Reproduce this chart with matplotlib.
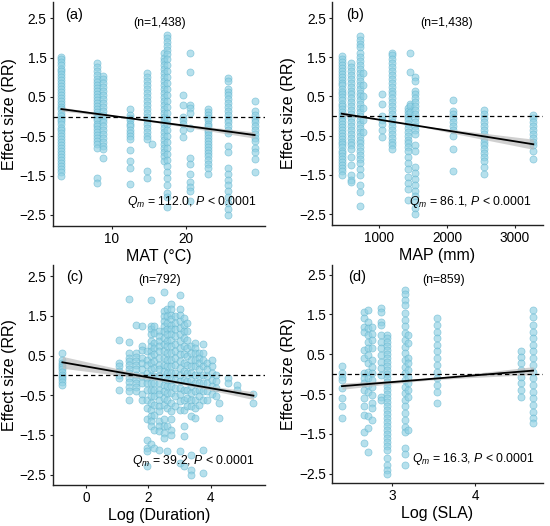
import numpy as np
import matplotlib
matplotlib.use("Agg")
import matplotlib.pyplot as plt

plt.rcParams['font.family'] = ['Liberation Sans', 'DejaVu Sans']
plt.rcParams['mathtext.fontset'] = 'custom'
plt.rcParams['mathtext.rm'] = 'Liberation Sans'
plt.rcParams['mathtext.it'] = 'Liberation Sans:italic'

# ---- (a) MAT columns and effect sizes
mat_x = [3.2, 8.0, 8.8, 12.5, 14.7, 15.4, 17.0, 17.4, 19.6, 20.6, 23.0, 25.7, 29.3]
mat_rr = [
    [1.52, 1.45, 1.38, 1.3, 1.22, 1.15, 1.08, 1.0, 0.92, 0.85, 0.78, 0.7, 0.62, 0.55, 0.48, 0.4,
     0.32, 0.25, 0.18, 0.1, 0.02, -0.05, -0.12, -0.2, -0.28, -0.35, -0.42, -0.5, -0.58, -0.65,
     -0.72, -0.8, -0.88, -0.95, -1.02, -1.1, -1.18, -1.25, -1.32, -1.4, -1.52],
    [1.37, 1.25, 1.15, 1.05, 0.95, 0.88, 0.8, 0.72, 0.65, 0.58, 0.5, 0.42, 0.35, 0.28, 0.2, 0.12,
     0.05, -0.03, -0.1, -0.18, -0.25, -0.32, -0.4, -0.48, -0.55, -0.62, -0.7, -0.8, -1.55, -1.7],
    [1.03, 0.95, 0.85, 0.75, 0.65, 0.55, 0.45, 0.35, 0.25, 0.15, 0.05, -0.05, -0.15, -0.25,
     -0.35, -0.45, -0.55, -0.65, -0.75, -0.83, -1.05],
    [0.2, 0.05, -0.03, -0.1, -0.18, -0.25, -0.33, -0.42, -0.5, -0.58, -0.85, -1.12, -1.3, -1.72],
    [1.1, 1.0, 0.9, 0.8, 0.7, 0.6, 0.5, 0.4, 0.3, 0.2, 0.1, 0.0, -0.1, -0.2, -0.3, -0.4, -0.5,
     -0.57, -1.38, -1.55],
    [-0.7],
    [1.62, 1.5, 1.4, 1.3, 1.2, 1.1, 1.0, 0.9, 0.8, 0.7, 0.6, 0.5, 0.4, 0.3, 0.2, 0.1, 0.0, -0.1,
     -0.2, -0.3, -0.4, -0.5, -0.6, -0.7, -0.8, -0.9, -1.0, -1.12],
    [2.08, 2.0, 1.9, 1.8, 1.7, 1.6, 1.45, 1.3, 1.15, 1.0, 0.85, 0.7, 0.55, 0.4, 0.25, 0.1, -0.05,
     -0.2, -0.35, -0.5, -0.65, -0.8, -0.95, -1.1, -1.25, -1.4, -1.55, -1.75, -1.95, -2.05, -2.3],
    [0.55, 0.3, 0.0, -0.1, -0.2, -0.35, -0.53],
    [1.62, 1.12, 0.3, 0.22, 0.1, -0.28, -1.05, -1.2, -1.45, -1.65, -1.8, -1.9, -2.15],
    [0.2, 0.12, 0.05, -0.03, -0.1, -0.18, -0.25, -0.33, -0.4, -0.48, -0.55, -0.62, -0.7, -0.78,
     -0.85, -0.92, -1.0, -1.1, -1.2, -1.3, -1.45],
    [0.97, 0.9, 0.7, 0.62, 0.55, 0.45, 0.35, 0.25, 0.15, 0.05, -0.05, -0.15, -0.25, -0.35, -0.42,
     -0.75, -0.9, -1.3, -1.45, -1.6, -1.75, -1.9, -2.05, -2.2, -2.35, -2.5],
    [0.4, 0.15, 0.05, -0.05, -0.15, -0.25, -0.35, -0.45, -0.55, -0.62, -0.8, -0.9, -1.08, -1.42],
]

# ---- (b) MAP columns
map_x = [451, 588, 720, 765, 1040, 1196, 1420, 1450, 1530, 2083, 2550, 3270]
map_rr = [
    [1.52, 1.45, 1.38, 1.3, 1.22, 1.15, 1.08, 1.0, 0.92, 0.85, 0.78, 0.7, 0.62, 0.55, 0.48, 0.4,
     0.32, 0.25, 0.18, 0.1, 0.02, -0.05, -0.12, -0.2, -0.28, -0.35, -0.42, -0.5, -0.58, -0.65,
     -0.72, -0.8, -0.88, -0.95, -1.02, -1.1, -1.18, -1.25, -1.32, -1.4, -1.5],
    [1.35, 1.25, 1.15, 1.05, 0.95, 0.85, 0.75, 0.65, 0.55, 0.45, 0.35, 0.25, 0.15, 0.05, -0.05,
     -0.15, -0.25, -0.35, -0.45, -0.55, -0.65, -0.75, -0.85, -1.05, -1.25, -1.5, -1.62, -1.68],
    [2.05, 1.95, 1.85, 1.75, 1.6, 1.5, 1.4, 1.3, 1.2, 1.1, 1.0, 0.9, 0.8, 0.7, 0.6, 0.5, 0.4, 0.3,
     0.2, 0.1, 0.0, -0.1, -0.2, -0.3, -0.4, -0.5, -0.6, -0.7, -0.8, -0.9, -1.0, -1.1, -1.2, -1.35,
     -1.5, -1.75, -1.95, -2.3],
    [1.1, 0.8, 0.5, 0.2, -0.1, -0.4],
    [0.57, 0.3, 0.0, -0.1, -0.2, -0.35, -0.53],
    [1.62, 1.55, 1.45, 1.35, 1.25, 1.15, 1.05, 0.95, 0.85, 0.75, 0.65, 0.55, 0.45, 0.35, 0.25,
     0.15, 0.05, -0.05, -0.15, -0.25, -0.35, -0.45, -0.55, -0.65, -0.75, -0.85],
    [0.2, 0.12, 0.05, -0.03, -0.1, -0.2, -0.3, -0.4, -0.5, -0.6, -0.7, -0.8, -0.9, -1.05, -1.2,
     -1.35, -1.55, -1.7, -1.85, -2.15],
    [1.62, 1.12, 0.3, 0.25, 0.1],
    [1.0, 0.9, 0.65, 0.55, 0.45, 0.35, 0.25, 0.15, 0.05, -0.05, -0.15, -0.25, -0.35, -0.45,
     -0.75, -0.9, -1.3, -1.45, -1.6, -1.75, -1.9, -2.05, -2.2, -2.35, -2.5],
    [0.4, 0.12, 0.05, -0.05, -0.15, -0.25, -0.35, -0.5, -0.85, -1.4],
    [0.15, 0.05, -0.05, -0.15, -0.25, -0.35, -0.45, -0.55, -0.65, -0.75, -0.85, -0.95, -1.05,
     -1.15, -1.3, -1.48],
    [0.02, -0.05, -0.15, -0.25, -0.35, -0.45, -0.55, -0.65, -0.75, -0.9, -1.1],
]

# ---- (c) log duration columns
dur_x = [-0.75, 1.07, 1.37, 1.6, 1.79, 1.95, 2.08, 2.2, 2.33, 2.49, 2.6, 2.72, 2.86, 3.02,
         3.13, 3.23, 3.36, 3.5, 3.63, 3.74, 3.87, 4.03, 4.17, 4.28, 4.54, 4.85, 5.37]
dur_rr = [
    [0.57, 0.4, 0.32, 0.27, 0.21, 0.15, 0.08, 0.02, -0.04, -0.1, -0.17, -0.23],
    [0.9, 0.32, 0.23, 0.11, 0.02, -0.06, -0.36],
    [1.93, 0.84, 0.57, 0.44, 0.36, 0.27, 0.16, 0.06, -0.06, -0.17, -0.29, -0.4, -0.61],
    [1.28, 0.57, 0.47, 0.36, 0.25, 0.15, 0.02, -0.09, -0.19, -0.29, -0.4],
    [1.24, 0.75, 0.65, 0.44, 0.32, 0.15, -0.02, -0.19, -0.48, -0.61],
    [0.61, 0.4, 0.27, 0.06, -0.06, -0.19, -0.36, -0.61, -0.82, -1.11, -1.62, -1.83, -1.91, -2.29],
    [1.91, 1.24, 1.16, 1.03, 0.86, 0.74, 0.61, 0.48, 0.32, 0.15, -0.02, -0.19, -0.36, -0.53,
     -0.69, -0.86, -1.03, -1.16, -1.28, -1.74],
    [1.24, 1.07, 0.82, 0.69, 0.53, 0.36, 0.19, -0.02, -0.19, -0.36, -0.53, -0.74, -0.99, -1.37,
     -1.83],
    [1.11, 0.99, 0.86, 0.74, 0.61, 0.44, 0.27, 0.15, -0.02, -0.19, -0.36, -0.48, -0.61, -0.78,
     -0.9, -1.16, -1.28, -1.41, -1.87],
    [2.1, 1.62, 1.49, 1.37, 1.24, 1.11, 0.95, 0.78, 0.61, 0.44, 0.27, 0.11, -0.06, -0.23, -0.4,
     -0.57, -0.74, -1.11, -1.28, -1.45, -1.58],
    [1.66, 1.49, 1.32, 1.16, 1.03, 0.86, 0.74, 0.57, 0.4, 0.23, 0.06, -0.11, -0.27, -0.44, -0.61,
     -0.82, -1.28, -1.91],
    [1.79, 1.66, 1.53, 1.41, 1.28, 1.16, 1.03, 0.9, 0.74, 0.57, 0.4, 0.23, 0.06, -0.11, -0.27,
     -0.44, -0.69, -0.9, -1.11, -1.37, -1.49],
    [1.49, 1.32, 1.16, 0.99, 0.78, 0.61, 0.44, 0.27, 0.06, -0.11, -0.32, -0.53, -0.78],
    [2.02, 1.66, 1.53, 1.37, 1.2, 1.03, 0.86, 0.69, 0.53, 0.36, 0.19, 0.02, -0.15, -0.32, -0.48,
     -0.65, -0.86, -1.91, -2.21],
    [1.45, 1.28, 1.11, 0.95, 0.74, 0.53, 0.32, 0.11, -0.11, -0.36, -0.61, -0.86, -1.28, -1.53,
     -2.29],
    [1.32, 1.11, 0.9, 0.69, 0.48, 0.27, 0.06, -0.15, -0.36, -0.57, -0.78],
    [0.74, 0.57, 0.4, 0.23, 0.06, -0.11, -0.27, -0.44, -0.61, -0.78, -1.03, -2.0, -2.37, -2.5],
    [0.82, 0.69, 0.57, 0.4, 0.23, 0.02, -0.19, -0.4, -0.61, -0.82, -1.07],
    [0.57, 0.44, 0.32, 0.15, -0.02, -0.19, -0.36, -0.53, -0.74],
    [0.78, 0.57, 0.4, 0.23, 0.02, -0.19, -0.4, -0.61, -1.87, -2.46],
    [0.32, 0.15, -0.02, -0.19, -0.4, -0.61],
    [0.4, 0.23, 0.06, -0.11, -0.27, -0.48],
    [0.02, -0.15, -0.32, -0.53],
    [-0.69, -1.07],
    [-0.06, -0.19],
    [-0.23, -0.36],
    [-0.48, -0.69],
]

# ---- (d) log SLA columns
sla_x = [2.39, 2.66, 2.71, 2.75, 2.86, 2.94, 3.15, 3.19, 3.54, 4.56, 4.7]
sla_rr = [
    [0.21, 0.02, -0.06, -0.15, -0.35, -0.6, -0.8, -1.1],
    [1.57, 1.4, 1.19, 1.07, 0.61, 0.4, 0.02, -0.1, -0.23, -0.39, -0.6, -0.81, -1.02, -1.44, -1.73],
    [1.6, 1.32, 1.15, 0.99, 0.82, 0.65, 0.48, 0.27, 0.06, -0.1, -0.27, -0.44, -1.06, -1.36, -1.95],
    [1.19, 1.02, 0.86, 0.65, 0.36, 0.19, 0.02, -0.14, -0.31, -0.52, -0.73, -0.85, -1.15],
    [1.65, 1.57, 1.32, 1.24, 0.99, 0.82, 0.65, 0.48, 0.31, 0.15, -0.02, -0.56, -0.65],
    [0.99, 0.9, 0.8, 0.7, 0.6, 0.5, 0.4, 0.3, 0.2, 0.1, 0.0, -0.1, -0.2, -0.3, -0.4, -0.5, -0.6,
     -0.7, -0.8, -0.9, -1.0, -1.1, -1.2, -1.3, -1.4, -1.5, -1.6, -1.7, -1.8, -1.9, -2.1, -2.28,
     -2.4, -2.5],
    [2.12, 2.0, 1.87, 1.74, 1.53, 1.36, 1.2, 1.03, 0.86, 0.69, 0.52, 0.36, 0.19, 0.02, -0.15,
     -0.31, -0.48, -0.65, -0.81, -0.98, -1.15, -1.32, -1.44, -1.86, -1.99, -2.28],
    [0.99, 0.78, 0.4, 0.27, 0.1, -0.06, -0.23, -0.4, -0.56, -1.4],
    [1.4, 1.24, 1.07, 0.9, 0.73, 0.57, 0.4, 0.23, 0.06, -0.1, -0.27, -0.44, -0.73],
    [0.59, 0.44, 0.27, 0.1, -0.06, -0.23, -0.39, -0.56],
    [1.61, 1.44, 1.23, 1.07, 0.9, 0.73, 0.57, 0.4, 0.23, 0.06, -0.1, -0.27, -0.44, -0.6, -0.77,
     -0.94, -1.11, -1.22],
]

# fitted lines: x start, y start, x end, y end ; CI half width at left, middle, right
fit_a = [3.2, 0.19, 29.3, -0.47]
ci_a = [0.05, 0.02, 0.08]
fit_b = [451, 0.06, 3270, -0.72]
ci_b = [0.05, 0.03, 0.13]
fit_c = [-0.75, 0.33, 5.37, -0.51]
ci_c = [0.15, 0.04, 0.10]
fit_d = [2.39, -0.30, 4.7, 0.09]
ci_d = [0.08, 0.03, 0.10]

labels = ['(a)', '(b)', '(c)', '(d)']
n_text = ['(n=1,438)', '(n=1,438)', '(n=792)', '(n=859)']
q_text = [r'$Q_m$ = 112.0, $P$ < 0.0001', r'$Q_m$ = 86.1, $P$ < 0.0001',
          r'$Q_m$ = 39.2, $P$ < 0.0001', r'$Q_m$ = 16.3, $P$ < 0.0001']
xlabels = ['MAT (°C)', 'MAP (mm)', 'Log (Duration)', 'Log (SLA)']

W, H = 550, 526
fig = plt.figure(figsize=(W / 100, H / 100), dpi=100)


def rect(l, t, r, b):
    return [l / W, 1 - b / H, (r - l) / W, (b - t) / H]


panels = [
    dict(box=(53, 2, 265, 226), xlim=(2.07, 30.7), ylim=(-2.78, 2.91), xt=[10, 20],
         cols=mat_x, rr=mat_rr, fit=fit_a, ci=ci_a, lab=(0.10, 0.94), n=(0.505, 0.905), q=(0.655, 0.105)),
    dict(box=(332, 2, 543, 225), xlim=(309, 3412), ylim=(-2.78, 2.91), xt=[1000, 2000, 3000],
         cols=map_x, rr=map_rr, fit=fit_b, ci=ci_b, lab=(0.11, 0.94), n=(0.545, 0.905), q=(0.654, 0.103)),
    dict(box=(53, 265, 265, 485), xlim=(-1.05, 5.74), ylim=(-2.76, 2.78), xt=[0, 2, 4],
         cols=dur_x, rr=dur_rr, fit=fit_c, ci=ci_c, lab=(0.104, 0.945), n=(0.505, 0.93), q=(0.66, 0.11)),
    dict(box=(332, 265, 543, 483), xlim=(2.27, 4.82), ylim=(-2.73, 2.74), xt=[3, 4],
         cols=sla_x, rr=sla_rr, fit=fit_d, ci=ci_d, lab=(0.117, 0.945), n=(0.53, 0.93), q=(0.668, 0.11)),
]

for i, p in enumerate(panels):
    ax = fig.add_axes(rect(*p['box']))
    xs = np.concatenate([[c] * len(r) for c, r in zip(p['cols'], p['rr'])])
    ys = np.concatenate(p['rr'])
    ax.scatter(xs, ys, s=26, facecolor='#8fd0e3', edgecolor='#62b5cf', linewidth=0.5,
               alpha=0.65, zorder=2)

    x0, y0, x1, y1 = p['fit']
    xx = np.linspace(x0, x1, 100)
    yy = y0 + (y1 - y0) * (xx - x0) / (x1 - x0)
    xm = (x0 + x1) / 2
    coef = np.polyfit([x0, xm, x1], np.array(p['ci']) ** 2, 2)
    hw = np.sqrt(np.clip(np.polyval(coef, xx), 1e-6, None))
    ax.fill_between(xx, yy - hw, yy + hw, color='#bdbdbd', alpha=0.7, lw=0, zorder=3)
    ax.plot(xx, yy, color='black', lw=1.3, zorder=4)
    ax.axhline(0, color='black', lw=0.9, ls=(0, (3.5, 2.5)), zorder=4)

    ax.set_xlim(*p['xlim'])
    ax.set_ylim(*p['ylim'])
    ax.set_xticks(p['xt'])
    ax.set_yticks([-2.5, -1.5, -0.5, 0.5, 1.5, 2.5])
    ax.set_yticklabels(['\u22122.5', '\u22121.5', '\u22120.5', '0.5', '1.5', '2.5'])
    for s in ['top', 'right']:
        ax.spines[s].set_visible(False)
    for s in ['left', 'bottom']:
        ax.spines[s].set_linewidth(1.0)
        ax.spines[s].set_color('#222222')
    ax.tick_params(length=2.5, width=0.8, labelsize=9.8, colors='#222222', labelcolor='black', pad=2)
    ax.set_xlabel(xlabels[i], fontsize=11.5, labelpad=2)
    ax.set_ylabel('Effect size (RR)', fontsize=11.5, labelpad=2)

    ax.text(*p['lab'], labels[i], transform=ax.transAxes, fontsize=10.5, ha='center', va='center')
    ax.text(*p['n'], n_text[i], transform=ax.transAxes, fontsize=8.8, ha='center', va='center')
    ax.text(*p['q'], q_text[i], transform=ax.transAxes, fontsize=8.8, ha='center', va='center')

fig.savefig('out.png', dpi=100)
